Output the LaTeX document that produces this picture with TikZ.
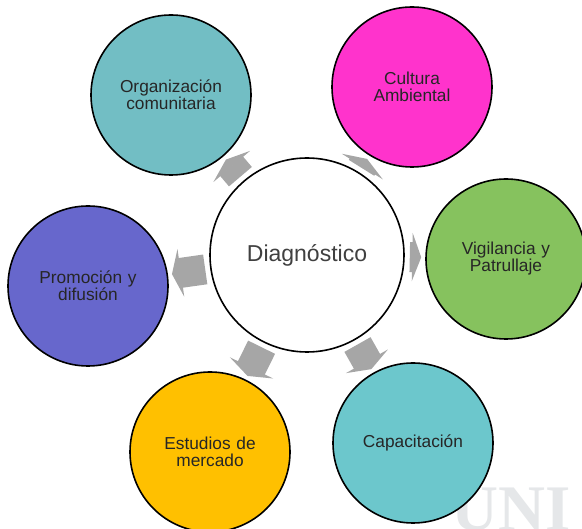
\documentclass[tikz,border=0pt]{standalone}
\usepackage{fontspec}
\setmainfont{Liberation Sans}
\newfontfamily\markfont{Liberation Serif}
\usetikzlibrary{arrows.meta, positioning}

\definecolor{orgcol}{RGB}{114,190,196}
\definecolor{cultcol}{RGB}{255,51,204}
\definecolor{vigcol}{RGB}{134,194,94}
\definecolor{capcol}{RGB}{108,199,204}
\definecolor{estcol}{RGB}{255,192,0}
\definecolor{promcol}{RGB}{103,103,204}
\definecolor{markgray}{RGB}{229,231,233}

\tikzset{
  bubble/.style={circle, draw, line width=1.6pt, minimum size=160pt, inner sep=0pt,
    text width=130pt, align=center, text=black!85, font=\fontsize{17.3}{17}\selectfont},
  hub/.style={circle, draw, line width=1.6pt, fill=white, minimum size=194pt,
    text=black!75, font=\fontsize{23}{27}\selectfont},
  gaparrow/.style={gray!70, line width=30pt, shorten <=5pt, shorten >=4pt,
    -{Triangle[length=9pt, width=48pt]}}
}

\begin{document}
\begin{tikzpicture} [x=1pt, y=1pt, node distance = 100pt, on grid]
\useasboundingbox (0,0) rectangle (582,-529);

\node (mark) [anchor=base east, text=markgray,
  font=\markfont\bfseries\fontsize{65}{65}\selectfont] at (574,-531) {UNI};

\node (diag) [hub] at (307,-255) {Diagnóstico};
\node (org) [bubble, fill=orgcol, above left = 160pt and 136pt of diag] {Organización\\comunitaria};
\node (cult) [bubble, fill=cultcol, above right = 168pt and 105pt of diag] {Cultura\\Ambiental};
\node (vig) [bubble, fill=vigcol, below right = 4pt and 199pt of diag] {Vigilancia y\\Patrullaje};
\node (cap) [bubble, fill=capcol, below right = 188pt and 106pt of diag] {Capacitación};
\node (est) [bubble, fill=estcol, below left = 197pt and 97pt of diag] {Estudios de\\mercado};
\node (prom) [bubble, fill=promcol, below left = 31pt and 219pt of diag] {Promoción y\\difusión};

\path [gaparrow]
    (diag) edge (org);
\path [gaparrow]
    (diag) edge (cult);
\path [gaparrow]
    (diag) edge (vig);
\path [gaparrow]
    (diag) edge (cap);
\path [gaparrow]
    (diag) edge (est);
\path [gaparrow]
    (diag) edge (prom);
\end{tikzpicture}
\end{document}
